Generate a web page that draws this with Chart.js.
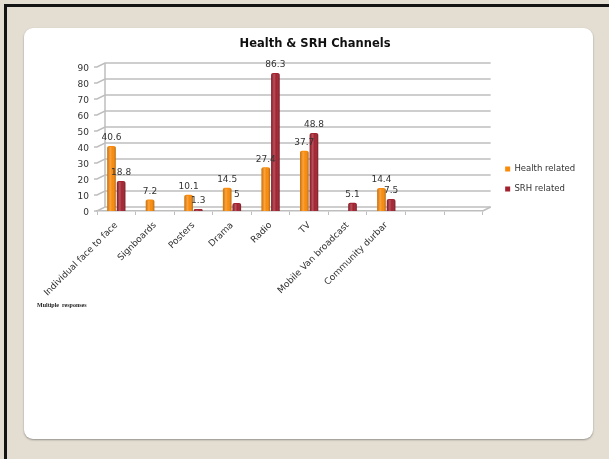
<!DOCTYPE html>
<html><head><meta charset="utf-8">
<script src="https://cdn.jsdelivr.net/npm/chart.js@4.4.0/dist/chart.umd.min.js"></script>
<style>
html,body{margin:0;padding:0;}
body{width:609px;height:459px;background:#E3DDD2;position:relative;overflow:hidden;}
#frame{position:absolute;left:4px;top:4px;right:0;bottom:0;border-top:3px solid #141414;border-left:3px solid #141414;}
#card{position:absolute;left:24px;top:28px;width:569px;height:411px;background:#fff;border-radius:9px;box-shadow:0 1px 2px rgba(0,0,0,0.35);}
#note{position:absolute;left:37px;top:302px;font:bold 6px "Liberation Serif",serif;color:#222;white-space:pre;}
canvas{position:absolute;left:0;top:0;}
</style></head><body>
<div id="frame"></div><div id="card"></div>
<canvas id="c" width="609" height="459"></canvas>
<div id="note">Multiple  responses</div>
<script>
const categories = ["Individual face to face","Signboards","Posters","Drama","Radio","TV","Mobile Van broadcast","Community durbar","",""];
const healthValues = [40.6, 7.2, 10.1, 14.5, 27.4, 37.7, null, 14.4, null, null];
const srhValues = [18.8, null, 1.3, 5, 86.3, 48.8, 5.1, 7.5, null, null];
const yTicks = [0,10,20,30,40,50,60,70,80,90];
const seriesNames = ["Health related","SRH related"];
const seriesColors = ["#F98A0A","#A3212F"];

const GRID = '#BEBEBE';
const DX = 8, UP = 4;

const wallPlugin = {
  id:'wall',
  beforeDatasetsDraw(chart){
    const {ctx, chartArea:{left,right,bottom}, scales:{y}} = chart;
    ctx.save();
    ctx.strokeStyle = GRID; ctx.lineWidth = 1.5;
    yTicks.forEach(v=>{
      const py = y.getPixelForValue(v);
      ctx.beginPath();
      ctx.moveTo(left-3, py); ctx.lineTo(left, py);
      ctx.lineTo(left+DX, py-UP); ctx.lineTo(right+DX, py-UP);
      ctx.stroke();
    });
    ctx.beginPath();
    ctx.moveTo(left+DX, y.getPixelForValue(yTicks[yTicks.length-1])-UP);
    ctx.lineTo(left+DX, y.getPixelForValue(0)-UP);
    ctx.moveTo(right, bottom); ctx.lineTo(right+DX, bottom-UP);
    ctx.stroke();
    ctx.restore();
  },
  afterDatasetsDraw(chart){
    const ctx = chart.ctx;
    ctx.save();
    chart.data.datasets.forEach((ds, di)=>{
      const meta = chart.getDatasetMeta(di);
      meta.data.forEach((el, i)=>{
        const v = ds.data[i];
        if (v === null || v === undefined) return;
        const w = el.width, x0 = el.x - w/2, top = el.y, base = el.base;
        const g = ctx.createLinearGradient(x0, 0, x0 + w, 0);
        g.addColorStop(0, 'rgba(0,0,0,0.18)');
        g.addColorStop(0.35, 'rgba(255,255,255,0.22)');
        g.addColorStop(0.6, 'rgba(255,255,255,0.0)');
        g.addColorStop(1, 'rgba(0,0,0,0.28)');
        ctx.fillStyle = g;
        ctx.fillRect(x0, top+1, w, base - top - 1);
      });
    });
    ctx.fillStyle = '#333';
    ctx.font = '9px "DejaVu Sans"';
    ctx.textAlign = 'center'; ctx.textBaseline = 'middle';
    chart.data.datasets.forEach((ds, di)=>{
      const meta = chart.getDatasetMeta(di);
      meta.data.forEach((el, i)=>{
        const v = ds.data[i];
        if (v === null || v === undefined) return;
        ctx.fillText(String(v), el.x, el.y - 8);
      });
    });
    ctx.restore();
  }
};

new Chart(document.getElementById('c'), {
  type:'bar',
  data:{
    labels: categories,
    datasets:[
      {label:seriesNames[0], data:healthValues, backgroundColor:seriesColors[0], borderWidth:0,
       categoryPercentage:0.5, barPercentage:0.89, borderRadius:{topLeft:2,topRight:2}, borderSkipped:'start', yAxisID:'y'},
      {label:seriesNames[1], data:srhValues, backgroundColor:seriesColors[1], borderWidth:0,
       categoryPercentage:0.5, barPercentage:0.89, borderRadius:{topLeft:2,topRight:2}, borderSkipped:'start', yAxisID:'y'}
    ]
  },
  options:{
    responsive:false, animation:false,
    layout:{padding:{left:47,right:26,top:0,bottom:101}},
    plugins:{
      title:{display:true, text:'Health & SRH Channels', color:'#111',
        font:{family:'"DejaVu Sans"', size:11.5, weight:'bold'}, padding:{top:37,bottom:16.2}},
      legend:{display:true, position:'right', align:'center',
        labels:{boxWidth:5, boxHeight:5, padding:11.5, color:'#333', font:{family:'"DejaVu Sans"', size:8.5}}},
      tooltip:{enabled:false}
    },
    scales:{
      x:{
        grid:{display:true, drawOnChartArea:false, drawTicks:true, tickLength:4, color:GRID, lineWidth:1},
        border:{display:true, color:GRID, width:1.5},
        ticks:{autoSkip:false, maxRotation:45, minRotation:45, padding:5, color:'#333', font:{family:'"DejaVu Sans"', size:9}},
        afterFit(s){ s.height = 147; }
      },
      y:{
        min:0, max:90,
        grid:{display:false, drawTicks:false}, border:{display:false},
        ticks:{stepSize:10, padding:8, labelOffset:1.5, color:'#333', font:{family:'"DejaVu Sans"', size:9}},
        afterFit(s){ s.width = 50; }
      },
      y2:{
        type:'linear', position:'right', min:0, max:1, display:true,
        grid:{display:false}, border:{display:false}, ticks:{display:false},
        afterFit(s){ s.width = 11; }
      }
    }
  },
  plugins:[wallPlugin]
});
</script>
</body></html>
